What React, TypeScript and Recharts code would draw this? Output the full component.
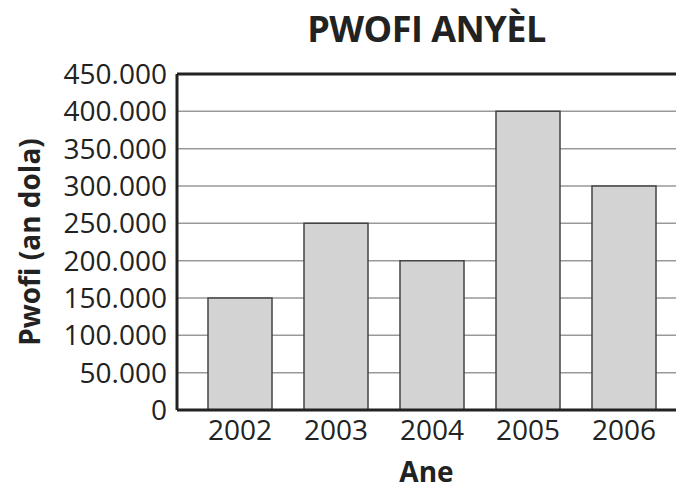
import { BarChart, Bar, XAxis, YAxis, CartesianGrid, ReferenceLine, Label } from "recharts";

const years = ["2002", "2003", "2004", "2005", "2006"];
const profits = [150000, 250000, 200000, 400000, 300000];
const yTicks = [0, 50000, 100000, 150000, 200000, 250000, 300000, 350000, 400000, 450000];

const data = years.map((year, i) => ({ year, profit: profits[i] }));

const font = "'Open Sans', sans-serif";

const fmt = (v: number) => (v === 0 ? "0" : v.toLocaleString("de-DE"));

export default function App() {
  return (
    <div style={{ position: "relative", width: 676, height: 492, fontFamily: font }}>
      <style>{`body{margin:0}`}</style>
      <div
        style={{
          position: "absolute",
          top: 4,
          left: 177,
          width: 499,
          textAlign: "center",
          fontSize: 36,
          lineHeight: "50px",
          fontWeight: 700,
          color: "#222",
          letterSpacing: -0.5,
        }}
      >
        PWOFI ANYÈL
      </div>
      <BarChart
        width={676}
        height={492}
        data={data}
        margin={{ top: 74, right: 0, left: 0, bottom: 0 }}
        barSize={64}
      >
        <CartesianGrid vertical={false} stroke="#999" strokeWidth={1.5} />
        <XAxis
          dataKey="year"
          padding={{ left: 15, right: 4 }}
          tickLine={false}
          axisLine={{ stroke: "#222", strokeWidth: 3 }}
          tick={{ fill: "#222", fontSize: 28, fontFamily: font }}
          tickMargin={4}
          height={82}
        >
          <Label
            value="Ane"
            position="insideBottom"
            offset={10}
            style={{ fill: "#222", fontSize: 28, fontWeight: 700, fontFamily: font }}
          />
        </XAxis>
        <YAxis
          domain={[0, 450000]}
          ticks={yTicks}
          tickFormatter={fmt}
          width={177}
          tickLine={false}
          axisLine={{ stroke: "#222", strokeWidth: 3 }}
          tick={{ fill: "#222", fontSize: 28, fontFamily: font }}
          tickMargin={4}
          interval={0}
        >
          <Label
            value="Pwofi (an dola)"
            angle={-90}
            position="insideLeft"
            offset={30}
            style={{ fill: "#222", fontSize: 28, fontWeight: 700, fontFamily: font, textAnchor: "middle" }}
          />
        </YAxis>
        <ReferenceLine y={450000} stroke="#222" strokeWidth={3} />
        <Bar dataKey="profit" fill="#d3d3d3" stroke="#444" strokeWidth={1.5} isAnimationActive={false} />
      </BarChart>
    </div>
  );
}
